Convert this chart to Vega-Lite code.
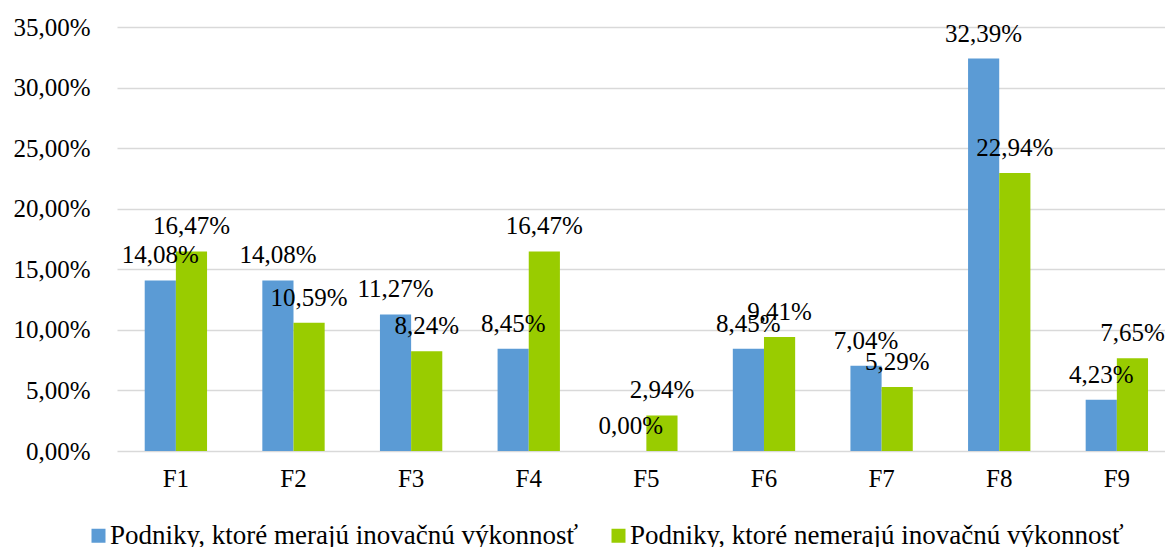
{
  "$schema": "https://vega.github.io/schema/vega-lite/v6.json",
  "width": 1048,
  "height": 424,
  "autosize": {"type": "none"},
  "padding": {"left": 117, "top": 27, "right": 0, "bottom": 96},
  "background": "white",
  "config": {
    "locale": {
      "number": {"decimal": ",", "thousands": " ", "grouping": [3], "currency": ["", " €"]}
    },
    "font": "Liberation Serif",
    "view": {"stroke": null}
  },
  "data": {
    "values": [
      {"faktor": "F1", "skupina": "Podniky, ktoré merajú inovačnú výkonnosť", "podiel": 0.1408},
      {"faktor": "F1", "skupina": "Podniky, ktoré nemerajú inovačnú výkonnosť", "podiel": 0.1647},
      {"faktor": "F2", "skupina": "Podniky, ktoré merajú inovačnú výkonnosť", "podiel": 0.1408},
      {"faktor": "F2", "skupina": "Podniky, ktoré nemerajú inovačnú výkonnosť", "podiel": 0.1059},
      {"faktor": "F3", "skupina": "Podniky, ktoré merajú inovačnú výkonnosť", "podiel": 0.1127},
      {"faktor": "F3", "skupina": "Podniky, ktoré nemerajú inovačnú výkonnosť", "podiel": 0.0824},
      {"faktor": "F4", "skupina": "Podniky, ktoré merajú inovačnú výkonnosť", "podiel": 0.0845},
      {"faktor": "F4", "skupina": "Podniky, ktoré nemerajú inovačnú výkonnosť", "podiel": 0.1647},
      {"faktor": "F5", "skupina": "Podniky, ktoré merajú inovačnú výkonnosť", "podiel": 0.0},
      {"faktor": "F5", "skupina": "Podniky, ktoré nemerajú inovačnú výkonnosť", "podiel": 0.0294},
      {"faktor": "F6", "skupina": "Podniky, ktoré merajú inovačnú výkonnosť", "podiel": 0.0845},
      {"faktor": "F6", "skupina": "Podniky, ktoré nemerajú inovačnú výkonnosť", "podiel": 0.0941},
      {"faktor": "F7", "skupina": "Podniky, ktoré merajú inovačnú výkonnosť", "podiel": 0.0704},
      {"faktor": "F7", "skupina": "Podniky, ktoré nemerajú inovačnú výkonnosť", "podiel": 0.0529},
      {"faktor": "F8", "skupina": "Podniky, ktoré merajú inovačnú výkonnosť", "podiel": 0.3239},
      {"faktor": "F8", "skupina": "Podniky, ktoré nemerajú inovačnú výkonnosť", "podiel": 0.2294},
      {"faktor": "F9", "skupina": "Podniky, ktoré merajú inovačnú výkonnosť", "podiel": 0.0423},
      {"faktor": "F9", "skupina": "Podniky, ktoré nemerajú inovačnú výkonnosť", "podiel": 0.0765}
    ]
  },
  "encoding": {
    "x": {
      "field": "faktor",
      "type": "nominal",
      "title": null,
      "scale": {"paddingInner": 0.47, "paddingOuter": 0.19, "align": 0.62},
      "axis": {
        "labelAngle": 0,
        "labelFont": "Liberation Serif",
        "labelFontSize": 25,
        "labelColor": "#000000",
        "labelPadding": 15,
        "domain": false,
        "ticks": false,
        "grid": false
      }
    },
    "xOffset": {
      "field": "skupina",
      "type": "nominal",
      "scale": {"paddingInner": 0, "paddingOuter": 0}
    },
    "y": {
      "field": "podiel",
      "type": "quantitative",
      "title": null,
      "scale": {"domain": [0, 0.35], "nice": false},
      "axis": {
        "values": [0, 0.05, 0.1, 0.15, 0.2, 0.25, 0.3, 0.35],
        "format": ".2%",
        "labelFont": "Liberation Serif",
        "labelFontSize": 25,
        "labelColor": "#000000",
        "labelPadding": 27,
        "domain": false,
        "ticks": false,
        "grid": true,
        "gridColor": "#D9D9D9",
        "gridWidth": 1.5
      }
    }
  },
  "layer": [
    {
      "mark": {"type": "bar"},
      "encoding": {
        "color": {
          "field": "skupina",
          "type": "nominal",
          "scale": {
            "domain": ["Podniky, ktoré merajú inovačnú výkonnosť", "Podniky, ktoré nemerajú inovačnú výkonnosť"],
            "range": ["#5B9BD5", "#99CC00"]
          },
          "legend": {
            "title": null,
            "orient": "none",
            "direction": "horizontal",
            "legendX": -32,
            "legendY": 495,
            "symbolType": "square",
            "symbolSize": 196,
            "symbolStrokeWidth": 0,
            "labelFont": "Liberation Serif",
            "labelFontSize": 27,
            "labelColor": "#000000",
            "labelOffset": -2,
            "labelLimit": 0,
            "columnPadding": 27
          }
        }
      }
    },
    {
      "mark": {
        "type": "text",
        "font": "Liberation Serif",
        "fontSize": 25,
        "color": "#000000",
        "baseline": "middle",
        "align": "center",
        "dy": -25
      },
      "encoding": {
        "text": {"field": "podiel", "type": "quantitative", "format": ".2%"}
      }
    }
  ]
}
